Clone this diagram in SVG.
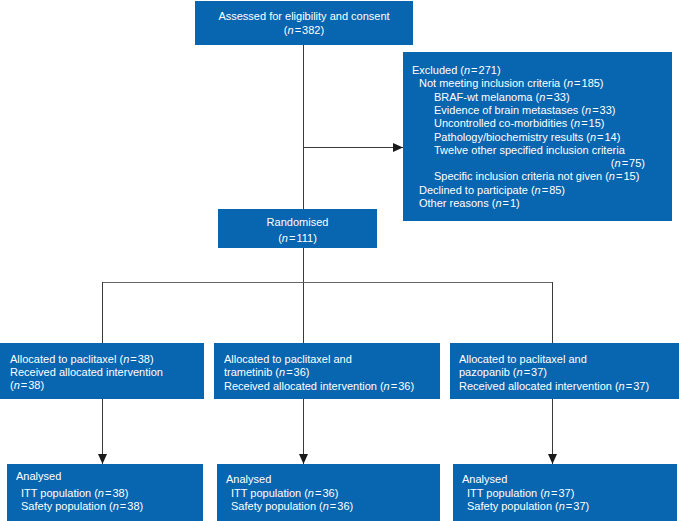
<svg xmlns="http://www.w3.org/2000/svg" width="679" height="521" viewBox="0 0 679 521">
<style>
.box{fill:#0865b0}
text{font-family:"Liberation Sans",Arial,sans-serif;font-size:11px;fill:#ffffff}
.c{text-anchor:middle}
.i{font-style:italic}
.ln{stroke:#3a3a3a;stroke-width:1;fill:none}
</style>
<defs>
<marker id="ah" markerUnits="userSpaceOnUse" markerWidth="10" markerHeight="10" viewBox="0 0 10 10" refX="10" refY="5" orient="auto">
<path d="M0,0.5 L10,5 L0,9.5 Z" fill="#1a1a1a"/>
</marker>
</defs>
<rect width="679" height="521" fill="#ffffff"/>
<g id="connectors">
<line class="ln" x1="303.5" y1="45" x2="303.5" y2="209"/>
<line class="ln" x1="303.5" y1="147.5" x2="403" y2="147.5" marker-end="url(#ah)"/>
<line class="ln" x1="303.5" y1="248" x2="303.5" y2="343"/>
<line class="ln" x1="102.5" y1="282.5" x2="552.5" y2="282.5" style="stroke:#666"/>
<line class="ln" x1="102.5" y1="282" x2="102.5" y2="343"/>
<line class="ln" x1="552.5" y1="282" x2="552.5" y2="343"/>
<line class="ln" x1="102.5" y1="399" x2="102.5" y2="464" marker-end="url(#ah)"/>
<line class="ln" x1="303.5" y1="399" x2="303.5" y2="464" marker-end="url(#ah)"/>
<line class="ln" x1="552.5" y1="399" x2="552.5" y2="464" marker-end="url(#ah)"/>
</g>
<g id="assessed">
<rect class="box" x="195" y="1" width="218" height="44"/>
<text class="c" x="304" y="20">Assessed for eligibility and consent</text>
<text class="c" x="304" y="34">(<tspan class="i">n</tspan><tspan dx="1">=</tspan><tspan dx="1">382)</tspan></text>
</g>
<g id="excluded">
<rect class="box" x="403" y="52" width="269" height="169"/>
<text x="412" y="74">Excluded (<tspan class="i">n</tspan><tspan dx="1">=</tspan><tspan dx="1">271)</tspan></text>
<text x="419" y="87.3">Not meeting inclusion criteria (<tspan class="i">n</tspan><tspan dx="1">=</tspan><tspan dx="1">185)</tspan></text>
<text x="434" y="100.6">BRAF-wt melanoma (<tspan class="i">n</tspan><tspan dx="1">=</tspan><tspan dx="1">33)</tspan></text>
<text x="434" y="113.9">Evidence of brain metastases (<tspan class="i">n</tspan><tspan dx="1">=</tspan><tspan dx="1">33)</tspan></text>
<text x="434" y="127.2">Uncontrolled co-morbidities (<tspan class="i">n</tspan><tspan dx="1">=</tspan><tspan dx="1">15)</tspan></text>
<text x="434" y="140.5">Pathology/biochemistry results (<tspan class="i">n</tspan><tspan dx="1">=</tspan><tspan dx="1">14)</tspan></text>
<text x="434" y="153.8">Twelve other specified inclusion criteria</text>
<text x="645" y="167.1" style="text-anchor:end">(<tspan class="i">n</tspan><tspan dx="1">=</tspan><tspan dx="1">75)</tspan></text>
<text x="434" y="180.4">Specific inclusion criteria not given (<tspan class="i">n</tspan><tspan dx="1">=</tspan><tspan dx="1">15)</tspan></text>
<text x="419" y="193.7">Declined to participate (<tspan class="i">n</tspan><tspan dx="1">=</tspan><tspan dx="1">85)</tspan></text>
<text x="419" y="207">Other reasons (<tspan class="i">n</tspan><tspan dx="1">=</tspan><tspan dx="1">1)</tspan></text>
</g>
<g id="randomised">
<rect class="box" x="218" y="209" width="159" height="39"/>
<text class="c" x="297.5" y="226">Randomised</text>
<text class="c" x="297.5" y="242">(<tspan class="i">n</tspan><tspan dx="1">=</tspan><tspan dx="1">111)</tspan></text>
</g>
<g id="alloc1">
<rect class="box" x="0" y="343" width="204" height="56"/>
<text x="10" y="363">Allocated to paclitaxel (<tspan class="i">n</tspan><tspan dx="1">=</tspan><tspan dx="1">38)</tspan></text>
<text x="10" y="376">Received allocated intervention</text>
<text x="10" y="389">(<tspan class="i">n</tspan><tspan dx="1">=</tspan><tspan dx="1">38)</tspan></text>
</g>
<g id="alloc2">
<rect class="box" x="214" y="343" width="226" height="56"/>
<text x="224" y="363">Allocated to paclitaxel and</text>
<text x="224" y="376">trametinib (<tspan class="i">n</tspan><tspan dx="1">=</tspan><tspan dx="1">36)</tspan></text>
<text x="224" y="390">Received allocated intervention (<tspan class="i">n</tspan><tspan dx="1">=</tspan><tspan dx="1">36)</tspan></text>
</g>
<g id="alloc3">
<rect class="box" x="450" y="343" width="229" height="56"/>
<text x="459" y="363">Allocated to paclitaxel and</text>
<text x="459" y="376">pazopanib (<tspan class="i">n</tspan><tspan dx="1">=</tspan><tspan dx="1">37)</tspan></text>
<text x="459" y="390">Received allocated intervention (<tspan class="i">n</tspan><tspan dx="1">=</tspan><tspan dx="1">37)</tspan></text>
</g>
<g id="analysed1">
<rect class="box" x="7" y="464" width="196" height="57"/>
<text x="16" y="480">Analysed</text>
<text x="21" y="497">ITT population (<tspan class="i">n</tspan><tspan dx="1">=</tspan><tspan dx="1">38)</tspan></text>
<text x="21" y="510">Safety population (<tspan class="i">n</tspan><tspan dx="1">=</tspan><tspan dx="1">38)</tspan></text>
</g>
<g id="analysed2">
<rect class="box" x="217" y="464" width="223" height="57"/>
<text x="226" y="483">Analysed</text>
<text x="231" y="497">ITT population (<tspan class="i">n</tspan><tspan dx="1">=</tspan><tspan dx="1">36)</tspan></text>
<text x="231" y="510">Safety population (<tspan class="i">n</tspan><tspan dx="1">=</tspan><tspan dx="1">36)</tspan></text>
</g>
<g id="analysed3">
<rect class="box" x="453" y="464" width="224" height="57"/>
<text x="462" y="483">Analysed</text>
<text x="467" y="497">ITT population (<tspan class="i">n</tspan><tspan dx="1">=</tspan><tspan dx="1">37)</tspan></text>
<text x="467" y="510">Safety population (<tspan class="i">n</tspan><tspan dx="1">=</tspan><tspan dx="1">37)</tspan></text>
</g>
</svg>
